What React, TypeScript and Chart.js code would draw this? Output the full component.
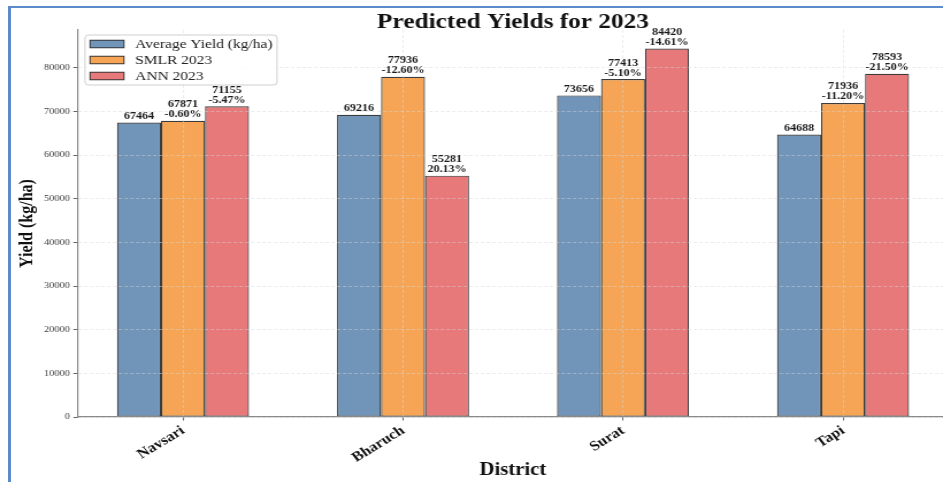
import React, { useEffect, useRef } from "react";
import { Chart, registerables } from "chart.js";

Chart.register(...registerables);

// ---- data ----
const districts = ["Navsari", "Bharuch", "Surat", "Tapi"];
const seriesNames = ["Average Yield (kg/ha)", "SMLR 2023", "ANN 2023"];
const averageYield = [67464, 69216, 73656, 64688];
const smlr2023 = [67871, 77936, 77413, 71936];
const ann2023 = [71155, 55281, 84420, 78593];
const smlrChange = ["-0.60%", "-12.60%", "-5.10%", "-11.20%"];
const annChange = ["-5.47%", "20.13%", "-14.61%", "-21.50%"];
const yTicks = [0, 10000, 20000, 30000, 40000, 50000, 60000, 70000, 80000];

const chartTitle = "Predicted Yields for 2023";
const xTitle = "District";
const yTitle = "Yield (kg/ha)";

// ---- styling ----
const STRETCH = 1.15; // the figure is displayed slightly widened
const VIEW_W = 943;
const CANVAS_W = 840; // the plot runs a little past the visible right edge
const CANVAS_H = 482;
const SERIF = '"Liberation Serif", "Times New Roman", serif';
const palette = ["rgba(78,121,167,0.8)", "rgba(242,142,43,0.8)", "rgba(225,87,89,0.8)"];
const edgeColor = "rgba(25,25,25,0.85)";
const frameBlue = "#5b8bcb";

const seriesValues = [averageYield, smlr2023, ann2023];
const changeLabels: (string[] | null)[] = [null, smlrChange, annChange];

const allValues = seriesValues.flat();
const yMax = Math.max(...allValues) * 1.05;

const titlePlugin = {
  id: "figTitle",
  afterDraw(chart: any) {
    const { ctx, chartArea } = chart;
    ctx.save();
    ctx.font = `bold 22px ${SERIF}`;
    ctx.fillStyle = "#111";
    ctx.textAlign = "center";
    ctx.textBaseline = "alphabetic";
    ctx.fillText(chartTitle, (chartArea.left + chartArea.right) / 2, 27.5);
    ctx.restore();
  },
};

const valueLabelPlugin = {
  id: "valueLabels",
  afterDraw(chart: any) {
    const ctx = chart.ctx;
    ctx.save();
    ctx.font = `bold 10.5px ${SERIF}`;
    ctx.fillStyle = "#1a1a1a";
    ctx.textAlign = "center";
    ctx.textBaseline = "alphabetic";
    chart.data.datasets.forEach((ds: any, di: number) => {
      const meta = chart.getDatasetMeta(di);
      meta.data.forEach((bar: any, i: number) => {
        const lines = [String(ds.data[i].y)];
        const extra = changeLabels[di];
        if (extra) lines.push(extra[i]);
        const base = bar.y - 3.5;
        lines.forEach((t, k) => {
          ctx.fillText(t, bar.x, base - (lines.length - 1 - k) * 10);
        });
      });
    });
    ctx.restore();
  },
};

const legendPlugin = {
  id: "boxLegend",
  afterDraw(chart: any) {
    const { ctx, chartArea } = chart;
    const x0 = chartArea.left + 6.6;
    const y0 = chartArea.top + 5;
    const w = 167;
    const h = 50;
    ctx.save();
    ctx.beginPath();
    if (ctx.roundRect) ctx.roundRect(x0, y0, w, h, 3);
    else ctx.rect(x0, y0, w, h);
    ctx.fillStyle = "rgba(255,255,255,0.85)";
    ctx.fill();
    ctx.strokeStyle = "#cfcfcf";
    ctx.lineWidth = 1;
    ctx.stroke();
    ctx.font = `13.5px ${SERIF}`;
    ctx.textAlign = "left";
    ctx.textBaseline = "middle";
    chart.data.datasets.forEach((ds: any, di: number) => {
      const cy = y0 + 9 + di * 16;
      ctx.fillStyle = ds.backgroundColor;
      ctx.fillRect(x0 + 4.4, cy - 3.75, 29.5, 7.5);
      ctx.strokeStyle = edgeColor;
      ctx.lineWidth = 1;
      ctx.strokeRect(x0 + 4.4, cy - 3.75, 29.5, 7.5);
      ctx.fillStyle = "#222";
      ctx.fillText(ds.label, x0 + 43.5, cy + 0.5);
    });
    ctx.restore();
  },
};

export default function App() {
  const canvasRef = useRef<HTMLCanvasElement | null>(null);

  useEffect(() => {
    const canvas = canvasRef.current;
    if (!canvas) return;

    const datasets = seriesValues.map((vals, si) => ({
      label: seriesNames[si],
      data: vals.map((v, i) => ({ x: i, y: v })),
      backgroundColor: palette[si],
      borderColor: edgeColor,
      borderWidth: 1.2,
      borderSkipped: false,
      categoryPercentage: 0.6,
      barPercentage: 1.0,
    }));

    const chart = new Chart(canvas, {
      type: "bar",
      data: { datasets },
      plugins: [titlePlugin, valueLabelPlugin, legendPlugin],
      options: {
        animation: false,
        responsive: false,
        devicePixelRatio: 1,
        events: [],
        layout: { padding: { top: 30, right: 15.1, left: 0, bottom: 0 } },
        plugins: {
          legend: { display: false },
          title: { display: false },
          tooltip: { enabled: false },
        },
        scales: {
          x: {
            type: "linear",
            min: -0.48,
            max: 3.48,
            offset: false,
            afterBuildTicks: (scale: any) => {
              scale.ticks = districts.map((_, i) => ({ value: i }));
            },
            afterFit: (scale: any) => {
              scale.height = 65;
            },
            ticks: {
              callback: (v: any) => districts[Math.round(Number(v))] ?? "",
              minRotation: 35,
              maxRotation: 35,
              autoSkip: false,
              padding: 2,
              color: "#111",
              font: { family: SERIF, size: 14, weight: "bold" },
            },
            grid: {
              offset: false,
              z: 1,
              color: "rgba(215,215,215,0.6)",
              lineWidth: 0.8,
              tickColor: "#666",
              tickLength: 3.5,
              tickWidth: 1,
            },
            border: { display: true, color: "#8a8a8a", width: 1.2, z: 2, dash: [3, 2] },
            title: {
              display: true,
              text: xTitle,
              color: "#111",
              font: { family: SERIF, size: 18, weight: "bold" },
              padding: { top: 0, bottom: 0.7 },
            },
          },
          y: {
            type: "linear",
            min: 0,
            max: yMax,
            afterBuildTicks: (scale: any) => {
              scale.ticks = yTicks.map((v) => ({ value: v }));
            },
            afterFit: (scale: any) => {
              scale.width = 67.3;
            },
            ticks: {
              callback: (v: any) => String(v),
              padding: 3,
              color: "#404040",
              font: { family: SERIF, size: 9 },
            },
            grid: {
              z: 1,
              color: "rgba(215,215,215,0.6)",
              lineWidth: 0.8,
              tickColor: "#666",
              tickLength: 3.5,
              tickWidth: 1,
            },
            border: { display: true, color: "#8a8a8a", width: 1.2, z: 2, dash: [3, 2] },
            title: {
              display: true,
              text: yTitle,
              color: "#111",
              font: { family: SERIF, size: 16, weight: "bold" },
              padding: { top: 13.9, bottom: 0 },
            },
          },
        },
      } as any,
    });

    return () => chart.destroy();
  }, []);

  return (
    <div
      style={{
        position: "fixed",
        left: 0,
        top: 0,
        width: VIEW_W,
        height: CANVAS_H,
        overflow: "hidden",
        background: "#fff",
      }}
    >
      <canvas
        ref={canvasRef}
        width={CANVAS_W}
        height={CANVAS_H}
        style={{ width: CANVAS_W * STRETCH, height: CANVAS_H, display: "block" }}
      />
      <div
        style={{
          position: "absolute",
          left: 8,
          top: 6,
          width: VIEW_W - 8,
          height: 2,
          background: frameBlue,
        }}
      />
      <div
        style={{
          position: "absolute",
          left: 8,
          top: 6,
          width: 3,
          height: CANVAS_H - 6,
          background: frameBlue,
        }}
      />
    </div>
  );
}
